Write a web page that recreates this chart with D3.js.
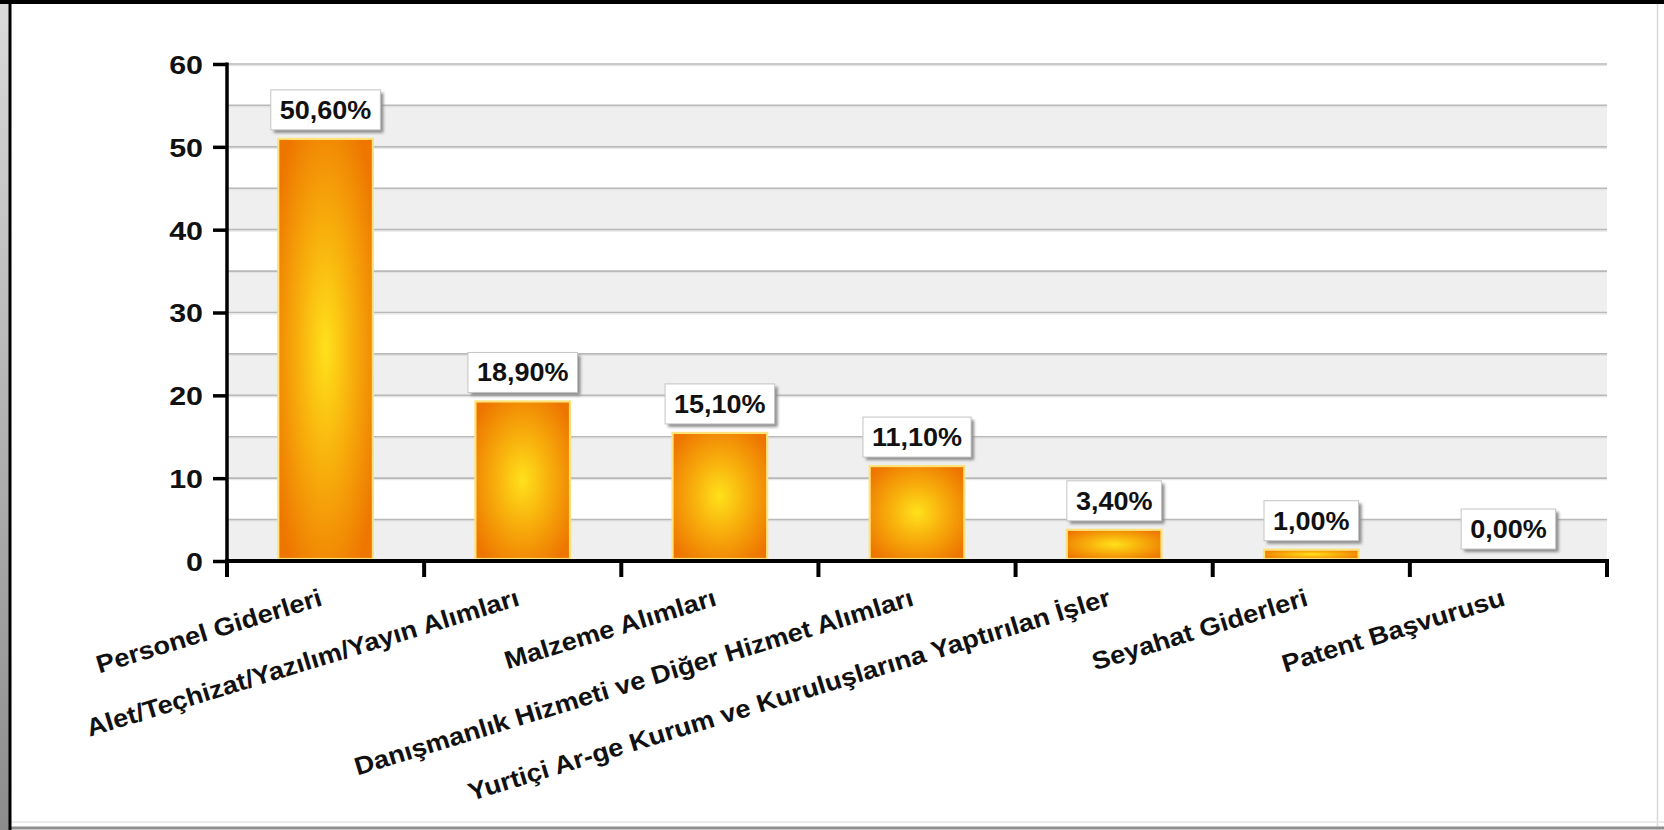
<!DOCTYPE html>
<html>
<head>
<meta charset="utf-8">
<script src="https://cdn.jsdelivr.net/npm/d3@7/dist/d3.min.js"></script>
<style>
  html, body { margin: 0; padding: 0; background: #ffffff; }
  svg { display: block; }
  text { font-family: "Liberation Sans", Arial, sans-serif; font-weight: bold; fill: #111; }
</style>
</head>
<body>
<svg id="chart" width="1664" height="830"></svg>
<script>
// ---- data ----
const categories = [
  "Personel Giderleri",
  "Alet/Teçhizat/Yazılım/Yayın Alımları",
  "Malzeme Alımları",
  "Danışmanlık Hizmeti ve Diğer Hizmet Alımları",
  "Yurtiçi Ar-ge Kurum ve Kuruluşlarına Yaptırılan İşler",
  "Seyahat Giderleri",
  "Patent Başvurusu"
];
const values = [50.6, 18.9, 15.1, 11.1, 3.4, 1.0, 0.0];
const yTicks = [0, 10, 20, 30, 40, 50, 60];
const gridValues = [0, 5, 10, 15, 20, 25, 30, 35, 40, 45, 50, 55, 60];

// ---- layout ----
const W = 1664, H = 830;
const plot = { left: 227, right: 1607, top: 64, bottom: 561 };

const svg = d3.select("#chart");
const defs = svg.append("defs");

const lg = defs.append("linearGradient").attr("id", "strip").attr("x1", 0).attr("y1", 0).attr("x2", 0).attr("y2", 1);
lg.append("stop").attr("offset", "0%").attr("stop-color", "#dadada");
lg.append("stop").attr("offset", "100%").attr("stop-color", "#8c8c8c");

const rg = defs.append("radialGradient").attr("id", "barGrad")
  .attr("cx", "50%").attr("cy", "50%").attr("r", "62%");
rg.append("stop").attr("offset", "0%").attr("stop-color", "#ffe11c");
rg.append("stop").attr("offset", "45%").attr("stop-color", "#f8b00c");
rg.append("stop").attr("offset", "100%").attr("stop-color", "#ee7600");

const f = defs.append("filter").attr("id", "blur").attr("x", "-20%").attr("y", "-20%").attr("width", "140%").attr("height", "140%");
f.append("feGaussianBlur").attr("stdDeviation", 1.6);

// ---- frame ----
svg.append("rect").attr("x", 0).attr("y", 0).attr("width", W).attr("height", H).attr("fill", "#fff");
svg.append("rect").attr("x", 0).attr("y", 0).attr("width", 9).attr("height", H).attr("fill", "url(#strip)");
svg.append("line").attr("x1", 1657.5).attr("x2", 1657.5).attr("y1", 0).attr("y2", H).attr("stroke", "#d8d8d8").attr("stroke-width", 1.5);
svg.append("line").attr("x1", 9).attr("x2", W).attr("y1", 822).attr("y2", 822).attr("stroke", "#e4e4e4").attr("stroke-width", 1.5);
svg.append("line").attr("x1", 9).attr("x2", W).attr("y1", 828).attr("y2", 828).attr("stroke", "#8e8e8e").attr("stroke-width", 3);
svg.append("line").attr("x1", 0).attr("x2", W).attr("y1", 2).attr("y2", 2).attr("stroke", "#000").attr("stroke-width", 4);
svg.append("line").attr("x1", 10).attr("x2", 10).attr("y1", 0).attr("y2", H).attr("stroke", "#000").attr("stroke-width", 3);

// ---- scales ----
const x = d3.scaleBand().domain(categories).range([plot.left, plot.right])
  .paddingInner(0.52).paddingOuter(0.26);
const y = d3.scaleLinear().domain([0, 60]).range([plot.bottom, plot.top]);
const step = x.step();

// ---- background bands & gridlines ----
const g = svg.append("g");
const bands = gridValues.filter(v => v < 60 && (v / 5) % 2 === 0);
g.selectAll("rect.band").data(bands).enter().append("rect")
  .attr("class", "band")
  .attr("x", plot.left).attr("width", plot.right - plot.left)
  .attr("y", d => y(d + 5)).attr("height", d => y(d) - y(d + 5))
  .attr("fill", "#efefef");
g.selectAll("line.grid").data(gridValues.filter(v => v > 0)).enter().append("line")
  .attr("class", "grid")
  .attr("x1", plot.left).attr("x2", plot.right)
  .attr("y1", d => y(d)).attr("y2", d => y(d))
  .attr("stroke", "#b9b9b9").attr("stroke-width", 1.6);
g.selectAll("line.grid2").data(gridValues.filter(v => v > 0)).enter().append("line")
  .attr("class", "grid2")
  .attr("x1", plot.left).attr("x2", plot.right)
  .attr("y1", d => y(d) + 1.5).attr("y2", d => y(d) + 1.5)
  .attr("stroke", "#e2e2e2").attr("stroke-width", 1);

// ---- bars ----
svg.selectAll("rect.bar").data(values.map((v, i) => ({ v, c: categories[i] })).filter(d => d.v > 0))
  .enter().append("rect")
  .attr("class", "bar")
  .attr("x", d => x(d.c))
  .attr("width", x.bandwidth())
  .attr("y", d => y(d.v) - 3)
  .attr("height", d => y(0) - y(d.v) + 1)
  .attr("fill", "url(#barGrad)")
  .attr("stroke", "#ffe27a")
  .attr("stroke-width", 2.2);

// ---- axes ----
const yAxis = d3.axisLeft(y).tickValues(yTicks).tickSize(14).tickPadding(10).tickFormat(d3.format("d"));
const ya = svg.append("g").attr("transform", `translate(${plot.left},0)`).call(yAxis);
ya.select(".domain").remove();
ya.selectAll(".tick line").attr("stroke", "#000").attr("stroke-width", 3.5);
ya.selectAll(".tick text")
  .attr("x", null).attr("dy", "0.36em")
  .attr("transform", "translate(-24,0) scale(1.17,1)")
  .style("font-size", "26px").attr("fill", "#111");
svg.append("line").attr("x1", plot.left).attr("x2", plot.left)
  .attr("y1", plot.top - 1.5).attr("y2", plot.bottom + 2)
  .attr("stroke", "#000").attr("stroke-width", 3.5);

svg.append("line").attr("x1", plot.left - 2).attr("x2", plot.right + 2)
  .attr("y1", plot.bottom).attr("y2", plot.bottom)
  .attr("stroke", "#000").attr("stroke-width", 4);
const boundaries = d3.range(categories.length + 1).map(i => plot.left + i * step);
svg.selectAll("line.xt").data(boundaries).enter().append("line")
  .attr("class", "xt")
  .attr("x1", d => d).attr("x2", d => d)
  .attr("y1", plot.bottom).attr("y2", plot.bottom + 16)
  .attr("stroke", "#000").attr("stroke-width", 4);

// x labels
svg.selectAll("text.xl").data(categories).enter().append("text")
  .attr("class", "xl")
  .attr("text-anchor", "end")
  .attr("transform", d => `translate(${x(d) + x.bandwidth() / 2 - 2},${plot.bottom + 44}) rotate(-17) scale(1.09,1)`)
  .style("font-size", "25px")
  .text(d => d);

// ---- value label boxes ----
const fmt = v => v.toFixed(2).replace(".", ",") + "%";
const lab = svg.selectAll("g.vl").data(values).enter().append("g").attr("class", "vl");
lab.each(function (d, i) {
  const gg = d3.select(this);
  const cx = x(categories[i]) + x.bandwidth() / 2;
  const bottom = y(d) - 12;
  const sx = 1.08;
  const t = gg.append("text").attr("text-anchor", "middle").style("font-size", "25px").text(fmt(d));
  const tw = t.node().getComputedTextLength() * sx;
  const bw = tw + 18, bh = 40;
  gg.insert("rect", "text").attr("x", cx - bw / 2 + 3).attr("y", bottom - bh + 3)
    .attr("width", bw).attr("height", bh).attr("fill", "#8a8a8a").attr("filter", "url(#blur)");
  gg.insert("rect", "text").attr("x", cx - bw / 2).attr("y", bottom - bh)
    .attr("width", bw).attr("height", bh).attr("fill", "#fff")
    .attr("stroke", "#c4c4c4").attr("stroke-width", 1);
  t.attr("transform", `translate(${cx},${bottom - 11}) scale(${sx},1)`);
});
</script>
</body>
</html>
